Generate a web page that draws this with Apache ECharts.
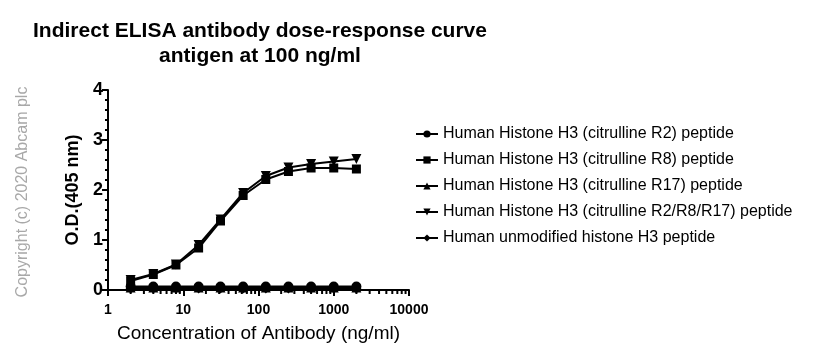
<!DOCTYPE html>
<html><head><meta charset="utf-8">
<script src="https://cdn.jsdelivr.net/npm/echarts@6/dist/echarts.min.js"></script>
<style>html,body{margin:0;padding:0;background:#fff}#c{width:813px;height:361px}</style>
</head><body><div id="c"></div>
<script>
const concentrations = [2, 4, 8, 16, 31.25, 62.5, 125, 250, 500, 1000, 2000];
const seriesNames = [
  'Human Histone H3 (citrulline R2) peptide',
  'Human Histone H3 (citrulline R8) peptide',
  'Human Histone H3 (citrulline R17) peptide',
  'Human Histone H3 (citrulline R2/R8/R17) peptide',
  'Human unmodified histone H3 peptide'
];
const odR2 = [0.07, 0.07, 0.07, 0.07, 0.07, 0.07, 0.07, 0.07, 0.07, 0.07, 0.07];
const odR8 = [0.18, 0.31, 0.50, 0.84, 1.38, 1.89, 2.21, 2.37, 2.44, 2.44, 2.42];
const odR17 = [0.05, 0.05, 0.05, 0.05, 0.05, 0.05, 0.05, 0.05, 0.05, 0.05, 0.05];
const odR2R8R17 = [0.20, 0.32, 0.51, 0.90, 1.41, 1.94, 2.28, 2.45, 2.52, 2.57, 2.62];
const odUnmod = [0.03, 0.03, 0.03, 0.03, 0.03, 0.03, 0.03, 0.03, 0.03, 0.03, 0.03];
const xTickLabels = {1: '1', 10: '10', 100: '100', 1000: '1000', 10000: '10000'};
const minorTickValues = [2,3,4,5,6,7,8,9,20,30,40,50,60,70,80,90,200,300,400,500,600,700,800,900,2000,3000,4000,5000,6000,7000,8000,9000];

const symbols = [
  {symbol: 'circle', size: 10, rot: 0},
  {symbol: 'rect', size: 9, rot: 0},
  {symbol: 'triangle', size: 10, rot: 0},
  {symbol: 'triangle', size: 10, rot: 180},
  {symbol: 'diamond', size: 10, rot: 0}
];
const allData = [odR2, odR8, odR17, odR2R8R17, odUnmod];

const font = 'Liberation Sans, Arial, sans-serif';
const chart = echarts.init(document.getElementById('c'), null, {renderer: 'canvas'});
const lineSeries = allData.map((vals, i) => ({
  name: seriesNames[i],
  type: 'line',
  data: concentrations.map((c, j) => [c, vals[j]]),
  symbol: symbols[i].symbol,
  symbolSize: symbols[i].size,
  symbolRotate: symbols[i].rot,
  lineStyle: {color: '#000', width: 2},
  itemStyle: {color: '#000'},
  emphasis: {disabled: true},
  animation: false,
  z: 3
}));
lineSeries.push({
  type: 'custom',
  silent: true,
  animation: false,
  data: minorTickValues.map(v => [v, 0]),
  renderItem: function (params, api) {
    const p = api.coord([api.value(0), 0]);
    return {type: 'line', shape: {x1: p[0], y1: p[1], x2: p[0], y2: p[1] + 4}, style: {stroke: '#000', lineWidth: 2}};
  },
  z: 1
});

chart.setOption({
  backgroundColor: '#fff',
  animation: false,
  title: {
    text: 'Indirect ELISA antibody dose-response curve\nantigen at 100 ng/ml',
    left: 255, top: 14, textAlign: 'center',
    textStyle: {fontFamily: font, fontSize: 21, fontWeight: 'bold', color: '#000', lineHeight: 25}
  },
  graphic: [{
    type: 'text', x: 23, y: 192, rotation: Math.PI / 2,
    style: {text: 'Copyright (c) 2020 Abcam plc', fontFamily: font, fontSize: 16, fill: '#a8a8a8', align: 'center', verticalAlign: 'middle'}
  }],
  legend: {
    orient: 'vertical', left: 410, top: 121, itemGap: 10,
    itemWidth: 22, itemHeight: 9,
    data: seriesNames,
    textStyle: {fontFamily: font, fontSize: 16, lineHeight: 16, color: '#000'}
  },
  grid: {left: 108, right: 404, top: 90, bottom: 71, containLabel: false},
  xAxis: {
    type: 'log', logBase: 10, min: 1, max: 10000,
    name: 'Concentration of Antibody (ng/ml)', nameLocation: 'middle', nameGap: 34,
    nameTextStyle: {fontFamily: font, fontSize: 19, color: '#000'},
    axisLine: {lineStyle: {color: '#000', width: 2}},
    axisTick: {show: true, length: 6, lineStyle: {color: '#000', width: 2}},
    axisLabel: {fontFamily: font, fontSize: 14, fontWeight: 'bold', color: '#000', margin: 13,
      formatter: v => xTickLabels[Math.round(v)] || String(v)},
    splitLine: {show: false}
  },
  yAxis: {
    type: 'value', min: 0, max: 4, interval: 1,
    name: 'O.D.(405 nm)', nameLocation: 'middle', nameGap: 26,
    nameTextStyle: {fontFamily: font, fontSize: 18, fontWeight: 'bold', color: '#000'},
    axisLine: {show: true, lineStyle: {color: '#000', width: 2}},
    axisTick: {show: true, length: 6, lineStyle: {color: '#000', width: 2}},
    minorTick: {show: true, splitNumber: 5, length: 3, lineStyle: {color: '#000', width: 2}},
    axisLabel: {fontFamily: font, fontSize: 18, fontWeight: 'bold', color: '#000', margin: 5},
    splitLine: {show: false}
  },
  series: lineSeries
});
</script></body></html>
